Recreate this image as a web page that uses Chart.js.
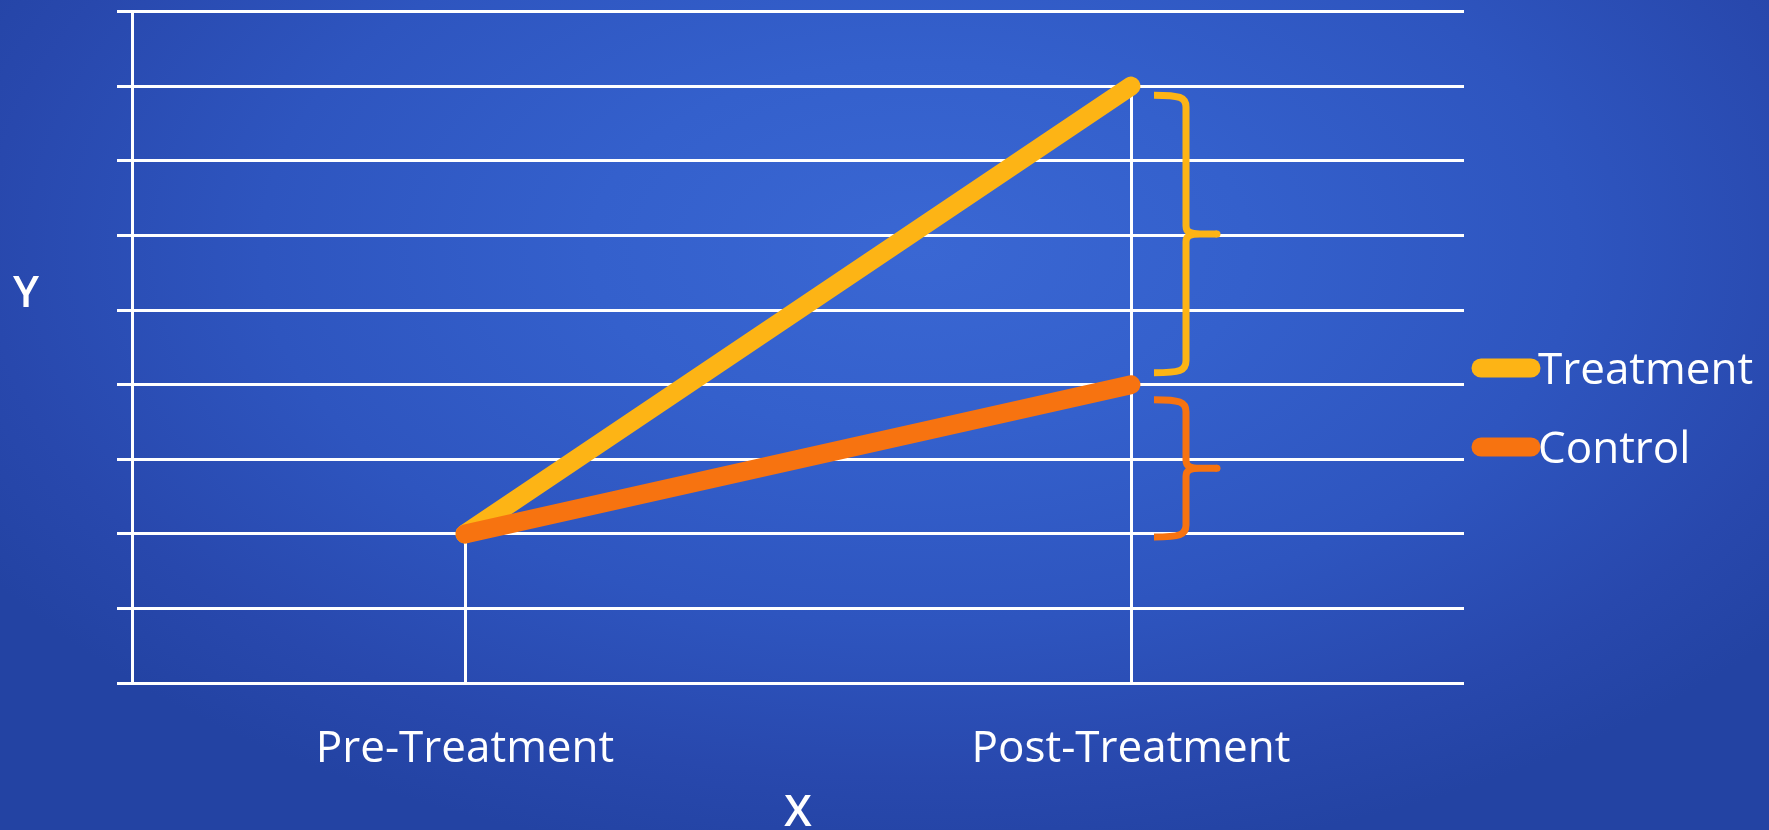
<!DOCTYPE html>
<html>
<head>
<meta charset="utf-8">
<title>Treatment vs Control</title>
<script src="https://cdn.jsdelivr.net/npm/chart.js@4/dist/chart.umd.min.js"></script>
<style>
  html, body { margin: 0; padding: 0; width: 1769px; height: 830px; overflow: hidden; }
  body {
    background:
      radial-gradient(ellipse 62% 75% at 52% 30%, #3a67d3 0%, #3460cc 30%, #2e55bf 60%, #2848ad 85%, #2343a3 100%);
  }
  #wrap { position: relative; width: 1769px; height: 830px; }
  canvas { display: block; }
</style>
</head>
<body>
<div id="wrap"><canvas id="chart" width="1769" height="830"></canvas></div>
<script>
// Measurement occasions on the x axis
const categories = ['Pre-Treatment', 'Post-Treatment'];

// Outcome level for each group at each occasion
const seriesNames = ['Treatment', 'Control'];
const treatmentValues = [2, 8];
const controlValues = [2, 4];

// Y axis range (unlabelled grid, one line per unit)
const yMin = 0;
const yMax = 9;

// Axis titles
const xTitle = 'X';
const yTitle = 'Y';

const COLORS = { Treatment: '#fdb415', Control: '#f77310' };
const FONT = '"Open Sans", "Noto Sans", sans-serif';

// Vertical drop lines from the highest point of each occasion down to the axis
const dropLines = {
  id: 'dropLines',
  beforeDatasetsDraw(chart) {
    const { ctx, scales: { x, y } } = chart;
    ctx.save();
    ctx.strokeStyle = '#ffffff';
    ctx.lineWidth = 3;
    categories.forEach((c, i) => {
      const top = Math.max(treatmentValues[i], controlValues[i]);
      const px = Math.round(x.getPixelForValue(i)) + 0.5;
      ctx.beginPath();
      ctx.moveTo(px, y.getPixelForValue(top));
      ctx.lineTo(px, y.getPixelForValue(yMin));
      ctx.stroke();
    });
    ctx.restore();
  }
};

// Curly braces beside the last occasion showing the two gaps
const braces = {
  id: 'braces',
  afterDatasetsDraw(chart, args, opts) {
    const { ctx, scales: { x, y } } = chart;
    const last = categories.length - 1;
    const px = x.getPixelForValue(last);
    const x0 = px + 23, xv = px + 55, xt = px + 86;
    opts.items.forEach(b => {
      const yTop = y.getPixelForValue(b.from) + b.insetTop;
      const yBot = y.getPixelForValue(b.to) - b.insetBottom;
      const ym = (yTop + yBot) / 2;
      ctx.save();
      ctx.strokeStyle = b.color;
      ctx.fillStyle = b.color;
      ctx.lineWidth = 7;
      ctx.lineCap = 'butt';
      ctx.lineJoin = 'round';
      ctx.beginPath();
      ctx.moveTo(x0, yTop);
      ctx.bezierCurveTo(xv - 6, yTop, xv, yTop + 2, xv, yTop + 12);
      ctx.lineTo(xv, ym - 8);
      ctx.bezierCurveTo(xv, ym - 2, xv + 4, ym, xv + 14, ym);
      ctx.lineTo(xt, ym);
      ctx.moveTo(xv + 14, ym);
      ctx.bezierCurveTo(xv + 4, ym, xv, ym + 2, xv, ym + 8);
      ctx.lineTo(xv, yBot - 12);
      ctx.bezierCurveTo(xv, yBot - 2, xv - 6, yBot, x0, yBot);
      ctx.stroke();
      ctx.beginPath();
      ctx.arc(xt, ym, 3.5, 0, Math.PI * 2);
      ctx.fill();
      ctx.restore();
    });
  }
};

// Axis titles drawn upright, and the series key on the right
const annotations = {
  id: 'annotations',
  afterDraw(chart) {
    const { ctx, chartArea: a } = chart;
    ctx.save();
    ctx.fillStyle = '#ffffff';
    ctx.font = '600 44px ' + FONT;
    ctx.textAlign = 'center';
    ctx.textBaseline = 'alphabetic';
    ctx.fillText(yTitle, a.left - 106, a.top + 295.5);
    ctx.fillText(xTitle, (a.left + a.right) / 2, 826);

    // key
    ctx.font = '44px ' + FONT;
    ctx.textAlign = 'left';
    seriesNames.forEach((name, i) => {
      const cy = 368 + i * 79;
      ctx.strokeStyle = COLORS[name];
      ctx.lineWidth = 19;
      ctx.lineCap = 'round';
      ctx.beginPath();
      ctx.moveTo(a.right + 17, cy);
      ctx.lineTo(a.right + 67, cy);
      ctx.stroke();
      ctx.fillStyle = '#ffffff';
      ctx.fillText(name, a.right + 74, cy + 15.5);
    });
    ctx.restore();
  }
};

new Chart(document.getElementById('chart'), {
  type: 'line',
  data: {
    labels: categories,
    datasets: [
      {
        label: seriesNames[1],
        data: controlValues,
        borderColor: COLORS.Control,
        backgroundColor: COLORS.Control,
        borderWidth: 19,
        borderCapStyle: 'round',
        pointRadius: 0,
        tension: 0
      },
      {
        label: seriesNames[0],
        data: treatmentValues,
        borderColor: COLORS.Treatment,
        backgroundColor: COLORS.Treatment,
        borderWidth: 19,
        borderCapStyle: 'round',
        pointRadius: 0,
        tension: 0
      }
    ]
  },
  options: {
    responsive: false,
    animation: false,
    layout: { padding: { left: 117, right: 305, top: 11.5, bottom: 23 } },
    plugins: {
      legend: { display: false },
      tooltip: { enabled: false },
      braces: {
        items: [
          { from: treatmentValues[1], to: controlValues[1], color: COLORS.Treatment, insetTop: 9, insetBottom: 12 },
          { from: controlValues[1], to: controlValues[0], color: COLORS.Control, insetTop: 15, insetBottom: -3 }
        ]
      }
    },
    scales: {
      x: {
        offset: true,
        grid: { display: false },
        border: { display: false },
        ticks: {
          color: '#ffffff',
          font: { family: FONT, size: 44, lineHeight: 1.2 },
          padding: 31.5,
          maxRotation: 0
        }
      },
      y: {
        min: yMin,
        max: yMax,
        grid: { color: '#ffffff', lineWidth: 3, tickLength: 15, drawTicks: true },
        border: { display: true, color: '#ffffff', width: 3 },
        ticks: { display: false, stepSize: 1 }
      }
    }
  },
  plugins: [dropLines, braces, annotations]
});
</script>
</body>
</html>
